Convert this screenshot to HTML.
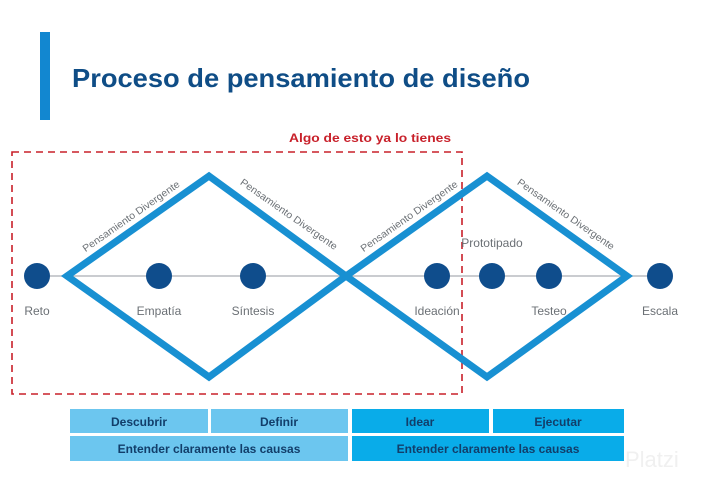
<!DOCTYPE html>
<html><head><meta charset="utf-8"><style>
html,body{margin:0;padding:0;background:#fff;}
svg{display:block;}
</style></head><body>
<svg width="701" height="481" viewBox="0 0 701 481" xmlns="http://www.w3.org/2000/svg" font-family="'Liberation Sans', sans-serif">
<rect width="701" height="481" fill="#fff"/>
<rect x="40" y="32" width="10" height="88" fill="#1287d0"/>
<text x="72" y="87" font-size="26" font-weight="bold" fill="#0f4d86" textLength="458" lengthAdjust="spacingAndGlyphs">Proceso de pensamiento de diseño</text>
<text x="370" y="142" font-size="12" font-weight="bold" fill="#c8202a" text-anchor="middle" textLength="162" lengthAdjust="spacingAndGlyphs">Algo de esto ya lo tienes</text>
<rect x="12" y="152" width="450" height="242" fill="none" stroke="#c8202a" stroke-width="1.6" stroke-dasharray="7,5"/>
<line x1="50" y1="276" x2="660" y2="276" stroke="#b8bcc0" stroke-width="1.5"/>
<g fill="none" stroke="#1890d2" stroke-width="7" stroke-linejoin="miter">
<polygon points="67,276 209,176 346,276 209,377"/>
<polygon points="346,276 487,176 627,276 487,377"/>
</g>
<g fill="#0f4d8c">
<circle cx="37" cy="276" r="13"/><circle cx="159" cy="276" r="13"/><circle cx="253" cy="276" r="13"/>
<circle cx="437" cy="276" r="13"/><circle cx="492" cy="276" r="13"/><circle cx="549" cy="276" r="13"/><circle cx="660" cy="276" r="13"/>
</g>
<g font-size="10" fill="#6b7075" text-anchor="middle">
<text transform="translate(133,219) rotate(-35)" textLength="116" lengthAdjust="spacingAndGlyphs">Pensamiento Divergente</text>
<text transform="translate(287,217) rotate(35)" textLength="116" lengthAdjust="spacingAndGlyphs">Pensamiento Divergente</text>
<text transform="translate(411,219) rotate(-35)" textLength="116" lengthAdjust="spacingAndGlyphs">Pensamiento Divergente</text>
<text transform="translate(564,217) rotate(35)" textLength="116" lengthAdjust="spacingAndGlyphs">Pensamiento Divergente</text>
</g>
<g font-size="12" fill="#6b7075" text-anchor="middle">
<text x="37" y="315">Reto</text>
<text x="159" y="315">Empatía</text>
<text x="253" y="315">Síntesis</text>
<text x="437" y="315">Ideación</text>
<text x="492" y="247">Prototipado</text>
<text x="549" y="315">Testeo</text>
<text x="660" y="315">Escala</text>
</g>
<g>
<rect x="70" y="409" width="138" height="24" fill="#6cc6ef"/>
<rect x="211" y="409" width="137" height="24" fill="#6cc6ef"/>
<rect x="352" y="409" width="137" height="24" fill="#09ace9"/>
<rect x="493" y="409" width="131" height="24" fill="#09ace9"/>
<rect x="70" y="436" width="278" height="25" fill="#6cc6ef"/>
<rect x="352" y="436" width="272" height="25" fill="#09ace9"/>
</g>
<g font-size="12" font-weight="bold" fill="#123e6a" text-anchor="middle">
<text x="139" y="426">Descubrir</text>
<text x="279" y="426">Definir</text>
<text x="420" y="426">Idear</text>
<text x="558" y="426">Ejecutar</text>
<text x="209" y="453">Entender claramente las causas</text>
<text x="488" y="453">Entender claramente las causas</text>
</g>
<text x="625" y="467" font-size="22" fill="#f0f0f0">Platzi</text>
</svg>
</body></html>
